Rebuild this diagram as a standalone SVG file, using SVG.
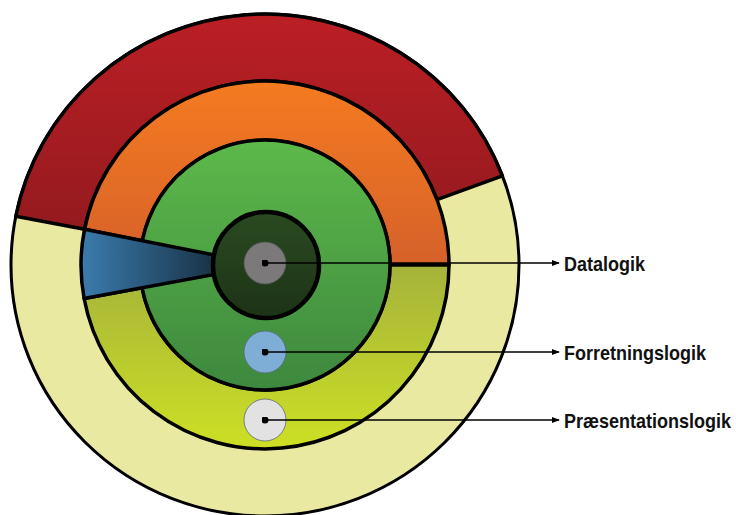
<svg xmlns="http://www.w3.org/2000/svg" width="736" height="515" viewBox="0 0 736 515">
  <defs>
    <linearGradient id="gRed" x1="0" y1="0" x2="0" y2="1">
      <stop offset="0" stop-color="#bb1f24"/>
      <stop offset="1" stop-color="#941a1f"/>
    </linearGradient>
    <linearGradient id="gOrange" x1="0" y1="0" x2="0" y2="1">
      <stop offset="0" stop-color="#f57b20"/>
      <stop offset="1" stop-color="#d6612a"/>
    </linearGradient>
    <linearGradient id="gOlive" x1="0" y1="0" x2="0" y2="1">
      <stop offset="0" stop-color="#a5b33b"/>
      <stop offset="1" stop-color="#cde024"/>
    </linearGradient>
    <linearGradient id="gGreen" x1="0" y1="0" x2="0" y2="1">
      <stop offset="0" stop-color="#5db94a"/>
      <stop offset="1" stop-color="#3d883e"/>
    </linearGradient>
    <linearGradient id="gDark" x1="0" y1="0" x2="0" y2="1">
      <stop offset="0" stop-color="#2a4a20"/>
      <stop offset="1" stop-color="#1d3317"/>
    </linearGradient>
    <linearGradient id="gWedge" x1="0" y1="0" x2="1" y2="0">
      <stop offset="0" stop-color="#3b7cad"/>
      <stop offset="1" stop-color="#0c1620"/>
    </linearGradient>
    <marker id="arrow" viewBox="0 0 10 10" refX="9" refY="5" markerWidth="8" markerHeight="8" markerUnits="userSpaceOnUse" orient="auto">
      <path d="M0,1 L10,5 L0,9 Z" fill="#000"/>
    </marker>
    <marker id="dot" viewBox="0 0 10 10" refX="5" refY="5" markerWidth="7" markerHeight="7" markerUnits="userSpaceOnUse">
      <circle cx="5" cy="5" r="5" fill="#000"/>
    </marker>
  </defs>
  <style>
    .edge { stroke: #000; stroke-width: 3.5; stroke-linejoin: round; }
    .conn { stroke: #000; stroke-width: 1.6; fill: none; marker-start: url(#dot); marker-end: url(#arrow); }
    .lbl { font-family: "Liberation Sans", Arial, sans-serif; font-weight: bold; font-size: 18px; fill: #111; }
    .thin { stroke: #5a6a7a; stroke-width: 0.8; }
  </style>

  <rect width="736" height="515" fill="#fff"/>

  <g id="outer-ring">
    <ellipse cx="265" cy="265" rx="254" ry="251" fill="#e9e9a2" class="edge" style="stroke-width:3"/>
  </g>
  <g id="red-segment">
    <path d="M15.8,216.3 A254,251 0 0 1 502.4,175.9 L437,199.7 A184,184 0 0 0 84.5,229.3 Z" fill="url(#gRed)" class="edge"/>
  </g>
  <g id="orange-segment">
    <path d="M449,265 A184,184 0 0 0 84.5,229.3 L142.4,240.7 A125,125 0 0 1 390,265 Z" fill="url(#gOrange)" class="edge"/>
  </g>
  <g id="olive-segment">
    <path d="M449,265 A184,184 0 0 1 84.1,298.5 L142.1,287.8 A125,125 0 0 0 390,265 Z" fill="url(#gOlive)" class="edge"/>
  </g>
  <g id="green-circle">
    <circle cx="265" cy="265" r="125" fill="url(#gGreen)" class="edge"/>
  </g>
  <g id="blue-wedge">
    <path d="M265,265 L84.5,229.3 A184,184 0 0 0 84.1,298.5 Z" fill="url(#gWedge)" class="edge"/>
  </g>
  <g id="dark-circle">
    <circle cx="266" cy="265" r="53" fill="url(#gDark)" class="edge" style="stroke-width:4.5"/>
  </g>
  <g id="data-node">
    <circle cx="265" cy="263" r="21" fill="#7b7979" stroke="#555" stroke-width="0.8"/>
  </g>
  <g id="business-node">
    <circle cx="265" cy="352" r="21" fill="#7eaed6" class="thin"/>
  </g>
  <g id="presentation-node">
    <circle cx="265" cy="420" r="21" fill="#e2e2e2" class="thin"/>
  </g>

  <g id="connectors">
    <line class="conn" x1="265" y1="263" x2="559" y2="263"/>
    <line class="conn" x1="265" y1="352" x2="559" y2="352"/>
    <line class="conn" x1="265" y1="420" x2="559" y2="420"/>
  </g>

  <g id="label-datalogik">
    <text class="lbl" transform="translate(564,270.5) scale(1,1.16)" x="0" y="0">Datalogik</text>
  </g>
  <g id="label-forretningslogik">
    <text class="lbl" transform="translate(564,359.5) scale(1,1.16)" x="0" y="0">Forretningslogik</text>
  </g>
  <g id="label-praesentationslogik">
    <text class="lbl" transform="translate(564,427.5) scale(1,1.16)" x="0" y="0">Præsentationslogik</text>
  </g>
</svg>
